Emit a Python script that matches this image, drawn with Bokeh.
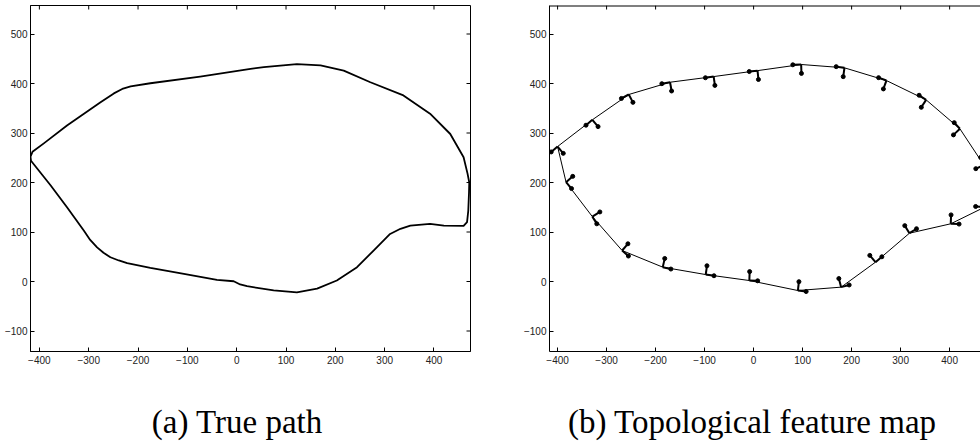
import numpy as np
from bokeh.plotting import figure
from bokeh.models import Range1d, FixedTicker, Div, Spacer
from bokeh.layouts import row, column
from bokeh.embed import file_html
from bokeh.resources import INLINE

# ---------------- data ----------------
# (a) true path, traversed clockwise from the left tip
path_x = [-418, -414, -391, -344, -276, -249, -232, -215, -175, -74, 28, 55, 122, 170,
          217, 271, 338, 392, 433, 460, 468, 471.5, 471, 469.5, 467, 460, 420, 392, 352,
          332, 311, 278, 244, 203, 163, 122, 75, 21, 7, -6, -40, -107, -175, -222, -239,
          -256, -270, -283, -297, -310, -344, -377, -417, -418]
path_y = [252, 262, 279, 315, 362, 380, 389, 394, 400.5, 414, 429.5, 433, 439, 436.5,
          426, 402.5, 376, 339, 298, 251, 218, 200, 180, 143, 120, 112.5, 113, 116.5, 113,
          106.5, 96, 63, 29, 2, -14.5, -22, -18, -9.5, -6, 0.5, 3.5, 15.5, 27.5, 37, 42.5,
          49, 58, 69, 84, 103, 150, 194, 244, 252]

# (b) topological feature map: node positions and heading (degrees)
node_x = [-400, -329, -254.7, -170.5, -81.5, 8, 97, 185.4, 271, 352, 421, 470, 471,
          402.3, 318, 248.7, 178.6, 90.3, -8.7, -97.7, -185.4, -268.3, -329, -382.7]
node_y = [272.7, 326.7, 377.8, 402.6, 414, 426, 438.4, 431.7, 406, 367, 308.5, 235, 150,
          116.6, 97.6, 39, -11.4, -18.2, 2, 14, 29, 62.6, 131, 200.6]
node_heading = [40, 40, 28, 10, 8, 6, 2, -8, -20, -33, -47, -67, -95,
                178, 212, 220, 195, 173, 178, 172, 167, 139, 122, 131]

x_ticks = [-400, -300, -200, -100, 0, 100, 200, 300, 400]
y_ticks = [-100, 0, 100, 200, 300, 400, 500]
captions = ["(a) True path", "(b) Topological feature map"]

# ---------------- layout constants (pixels) ----------------
FIG_H = 380
FRAME_H = 346
TOP_B = 5
PX_PER_X = 0.4935
PX_PER_Y = 0.495
Y0, Y1 = -141.4, -141.4 + FRAME_H / PX_PER_Y
TICK_PX = 4


def lbl(v):
    return str(v).replace("-", "\u2212")


def style_axis(ax, ticks, standoff):
    ax.ticker = FixedTicker(ticks=ticks)
    ax.major_tick_in = TICK_PX
    ax.major_tick_out = 0
    ax.minor_tick_line_color = None
    ax.axis_line_color = "black"
    ax.axis_line_width = 1
    ax.major_tick_line_color = "black"
    ax.major_tick_line_width = 1
    ax.major_label_overrides = {t: lbl(t) for t in ticks}
    ax.major_label_text_font = "Liberation Sans"
    ax.major_label_text_font_size = "10px"
    ax.major_label_text_color = "#222222"
    ax.major_label_standoff = standoff


def make_fig(width, xr, border_left, border_right, outline):
    p = figure(width=width, height=FIG_H, x_range=Range1d(*xr), y_range=Range1d(Y0, Y1),
               output_backend="svg", toolbar_location=None,
               min_border_left=border_left, min_border_right=border_right,
               min_border_top=TOP_B, min_border_bottom=FIG_H - TOP_B - FRAME_H,
               outline_line_color="black" if outline else None, outline_line_width=1,
               background_fill_color="white", border_fill_color="white", margin=0)
    p.grid.visible = False
    style_axis(p.xaxis[0], x_ticks, 4)
    style_axis(p.yaxis[0], y_ticks, 3)
    return p


# ---------------- panel (a) ----------------
xa = (-418.0, 474.0)
pa = make_fig(520, xa, 30, 50, True)
pa.line(path_x, path_y, line_color="black", line_width=1.8, line_join="round")
# inward ticks on the top and right edges (box on)
tx = np.array(x_ticks, dtype=float)
ty = np.array(y_ticks, dtype=float)
pa.segment(tx, Y1, tx, Y1 - TICK_PX / PX_PER_Y, line_color="black", line_width=1)
pa.segment(xa[1], ty, xa[1] - TICK_PX / PX_PER_X, ty, line_color="black", line_width=1)

# ---------------- panel (b) ----------------
xb = (-416.5, 463.0)
pb = make_fig(460, xb, 25, 0, False)
pb.segment(xb[0], Y1, xb[1], Y1, line_color="black", line_width=2)
pb.segment(tx, Y1, tx, Y1 - TICK_PX / PX_PER_Y, line_color="black", line_width=1)

nx = np.array(node_x, dtype=float)
ny = np.array(node_y, dtype=float)
h = np.radians(np.array(node_heading, dtype=float))
pb.line(list(nx) + [nx[0]], list(ny) + [ny[0]], line_color="black", line_width=1)
back_len, perp_len = 17.0, 18.0
bx = nx + back_len * np.cos(h + np.pi)
by = ny + back_len * np.sin(h + np.pi)
qx = nx + perp_len * np.cos(h - np.pi / 2)
qy = ny + perp_len * np.sin(h - np.pi / 2)
pb.segment(nx, ny, bx, by, line_color="black", line_width=2)
pb.segment(nx, ny, qx, qy, line_color="black", line_width=2)
pb.scatter(np.concatenate([bx, qx]), np.concatenate([by, qy]), size=4,
           fill_color="black", line_color="black")

# ---------------- captions ----------------
CAP_H = 445 - FIG_H


def caption(text, width):
    style = (f"display:block;width:{width}px;font-family:'Liberation Serif',serif;"
             "font-size:33px;line-height:33px;text-align:center;padding-top:26px;"
             "color:black;white-space:nowrap;margin:0;")
    return Div(text=f'<div style="{style}">{text}</div>', width=width, height=CAP_H,
               margin=0)


cap_a = caption(captions[0], 474)
gap = Spacer(width=50, height=CAP_H, margin=0)
cap_b = caption(captions[1], 456)

layout = column(row(pa, pb, margin=0), row(cap_a, gap, cap_b, margin=0), margin=0)
open("out.html", "w").write(file_html(layout, INLINE))
